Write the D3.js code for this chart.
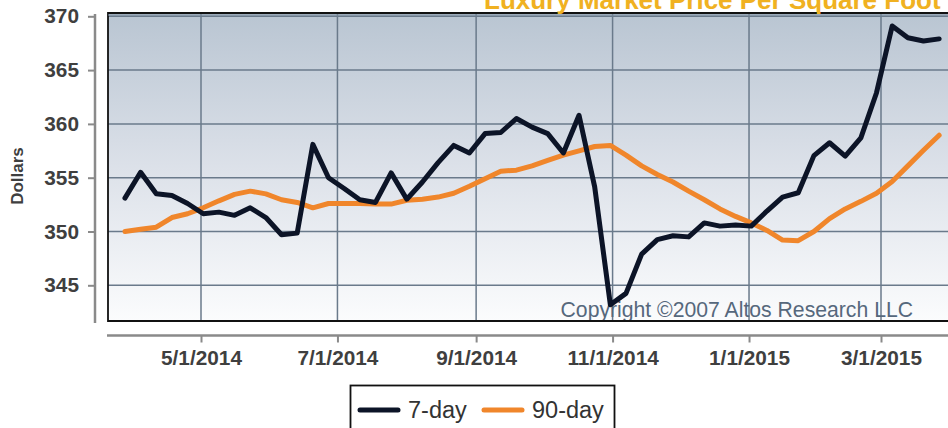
<!DOCTYPE html>
<html>
<head>
<meta charset="utf-8">
<script src="https://cdn.jsdelivr.net/npm/d3@7"></script>
<style>
  html, body { margin: 0; padding: 0; background: #fff; overflow: hidden; }
  svg { display: block; font-family: "Liberation Sans", Arial, sans-serif; }
</style>
</head>
<body>
<svg id="chart" width="948" height="428"></svg>
<script>
// weekly observations, first one on 3/28/2014
const startDate = new Date(2014, 2, 28);

const sevenDay = [
  353.1, 355.5, 353.5, 353.35, 352.6, 351.65, 351.8, 351.5, 352.2, 351.3,
  349.7, 349.85, 358.1, 355.0, 354.0, 352.95, 352.7, 355.45, 353.0, 354.6,
  356.4, 358.0, 357.3, 359.1, 359.2, 360.5, 359.7, 359.1, 357.3, 360.8,
  354.15, 343.2, 344.25, 347.9, 349.25, 349.6, 349.5, 350.8, 350.5, 350.6,
  350.5, 351.9, 353.2, 353.6, 357.05, 358.25, 357.0, 358.7, 362.9, 369.1,
  368.0, 367.7, 367.9
];

const ninetyDay = [
  350.0, 350.2, 350.4, 351.3, 351.65, 352.2, 352.85, 353.45, 353.75, 353.5,
  352.95, 352.7, 352.2, 352.6, 352.6, 352.6, 352.55, 352.55, 352.9, 353.0,
  353.2, 353.55, 354.2, 354.9, 355.6, 355.7, 356.1, 356.6, 357.1, 357.5,
  357.9, 358.0, 357.1, 356.1, 355.3, 354.6, 353.75, 352.95, 352.1, 351.4,
  350.8, 350.1, 349.2, 349.15, 350.0, 351.2, 352.1, 352.8, 353.55, 354.65,
  356.1, 357.55, 358.95
];

const yTicks = [345, 350, 355, 360, 365, 370];
const xTicks = ["5/1/2014", "7/1/2014", "9/1/2014", "11/1/2014", "1/1/2015", "3/1/2015"];

const seriesNames = ["7-day", "90-day"];
const seriesColors = ["#0c1427", "#f0862b"];

const parseDate = d3.timeParse("%m/%d/%Y");
const dates = sevenDay.map((d, i) => d3.timeDay.offset(startDate, 7 * i));

const svg = d3.select("#chart");

const plot = { left: 108, top: 13, right: 962, bottom: 321 };

const x = d3.scaleTime()
    .domain([parseDate("05/01/2014"), parseDate("03/01/2015")])
    .range([201, 881]);

const y = d3.scaleLinear()
    .domain([345, 370])
    .range([285.3, 16.3]);

// background gradient
const defs = svg.append("defs");
const grad = defs.append("linearGradient")
    .attr("id", "bg")
    .attr("x1", 0).attr("y1", 0).attr("x2", 0).attr("y2", 1);
grad.append("stop").attr("offset", "0%").attr("stop-color", "#b9c5d2");
grad.append("stop").attr("offset", "50%").attr("stop-color", "#dce1e9");
grad.append("stop").attr("offset", "100%").attr("stop-color", "#fbfcfd");

defs.append("clipPath").attr("id", "plotClip")
  .append("rect")
    .attr("x", plot.left).attr("y", plot.top)
    .attr("width", plot.right - plot.left)
    .attr("height", plot.bottom - plot.top);

svg.append("rect")
    .attr("x", plot.left).attr("y", plot.top)
    .attr("width", plot.right - plot.left)
    .attr("height", plot.bottom - plot.top)
    .attr("fill", "url(#bg)");

// grid
const grid = svg.append("g").attr("clip-path", "url(#plotClip)");
grid.selectAll(".hgrid")
    .data(yTicks)
    .join("line")
    .attr("class", "hgrid")
    .attr("x1", plot.left).attr("x2", plot.right)
    .attr("y1", d => y(d)).attr("y2", d => y(d))
    .attr("stroke", "#6a7a8b")
    .attr("stroke-width", 1.5);

grid.selectAll(".vgrid")
    .data(xTicks)
    .join("line")
    .attr("class", "vgrid")
    .attr("x1", d => x(parseDate(d))).attr("x2", d => x(parseDate(d)))
    .attr("y1", plot.top).attr("y2", plot.bottom)
    .attr("stroke", "#6a7a8b")
    .attr("stroke-width", 1.5);

// copyright
svg.append("text")
    .attr("x", 913)
    .attr("y", 316.5)
    .attr("text-anchor", "end")
    .attr("fill", "#56687c")
    .style("font-size", "21.2px")
    .text("Copyright ©2007 Altos Research LLC");

// lines
const line = d3.line()
    .x((d, i) => x(dates[i]))
    .y(d => y(d));

const lines = svg.append("g").attr("clip-path", "url(#plotClip)");
[ninetyDay, sevenDay].forEach((series, k) => {
  lines.append("path")
      .datum(series)
      .attr("d", line)
      .attr("fill", "none")
      .attr("stroke", k === 0 ? seriesColors[1] : seriesColors[0])
      .attr("stroke-width", 5)
      .attr("stroke-linejoin", "round")
      .attr("stroke-linecap", "round");
});

// plot frame
svg.append("path")
    .attr("d", `M${plot.right},${plot.top}H${plot.left}V${plot.bottom}H${plot.right}`)
    .attr("fill", "none")
    .attr("stroke", "#111")
    .attr("stroke-width", 1.8);
svg.append("line")
    .attr("x1", plot.left).attr("x2", plot.right)
    .attr("y1", plot.top + 2).attr("y2", plot.top + 2)
    .attr("stroke", "#7d8ea0")
    .attr("stroke-width", 1);

// y axis
const yAxis = svg.append("g")
    .attr("transform", "translate(95,0)")
    .call(d3.axisLeft(y).tickValues(yTicks).tickSize(7).tickPadding(9));
yAxis.select(".domain")
    .attr("d", `M0,14V323`)
    .attr("stroke", "#8a8a8a")
    .attr("stroke-width", 2.5);
yAxis.selectAll(".tick line").attr("stroke", "#8a8a8a").attr("stroke-width", 2);
yAxis.selectAll(".tick text")
    .attr("fill", "#3f3f3f")
    .style("font-size", "20.8px")
    .style("font-weight", "bold")
    .style("font-family", "'Liberation Sans', Arial, sans-serif");

// x axis
const xAxis = svg.append("g")
    .attr("transform", "translate(0,335.5)")
    .call(d3.axisBottom(x)
      .tickValues(xTicks.map(parseDate))
      .tickFormat((d, i) => xTicks[i])
      .tickSize(7).tickPadding(8));
xAxis.select(".domain")
    .attr("d", `M107,0H948`)
    .attr("stroke", "#8a8a8a")
    .attr("stroke-width", 2.5);
xAxis.selectAll(".tick line").attr("stroke", "#8a8a8a").attr("stroke-width", 2);
xAxis.selectAll(".tick text")
    .attr("fill", "#3f3f3f")
    .style("font-size", "20.8px")
    .style("font-weight", "bold")
    .style("font-family", "'Liberation Sans', Arial, sans-serif");

// y label
svg.append("text")
    .attr("transform", "translate(23,176) rotate(-90)")
    .attr("text-anchor", "middle")
    .attr("fill", "#3f3f3f")
    .style("font-size", "17px")
    .style("font-weight", "bold")
    .text("Dollars");

// title (cut off at top)
svg.append("text")
    .attr("x", 484)
    .attr("y", 9)
    .attr("fill", "#f0b121")
    .style("font-size", "26px")
    .style("font-weight", "bold")
    .text("Luxury Market Price Per Square Foot");

// legend
const legend = svg.append("g");
legend.append("rect")
    .attr("x", 350.5).attr("y", 385.5)
    .attr("width", 264).attr("height", 60)
    .attr("fill", "#fff")
    .attr("stroke", "#111")
    .attr("stroke-width", 1.8);

const legendX = [358, 482];
seriesNames.forEach((name, i) => {
  legend.append("line")
      .attr("x1", legendX[i] + 2).attr("x2", legendX[i] + 40)
      .attr("y1", 410).attr("y2", 410)
      .attr("stroke", seriesColors[i])
      .attr("stroke-width", 5)
      .attr("stroke-linecap", "round");
  legend.append("text")
      .attr("x", legendX[i] + 50)
      .attr("y", 418)
      .attr("fill", "#333")
      .style("font-size", "23.5px")
      .text(name);
});
</script>
</body>
</html>
